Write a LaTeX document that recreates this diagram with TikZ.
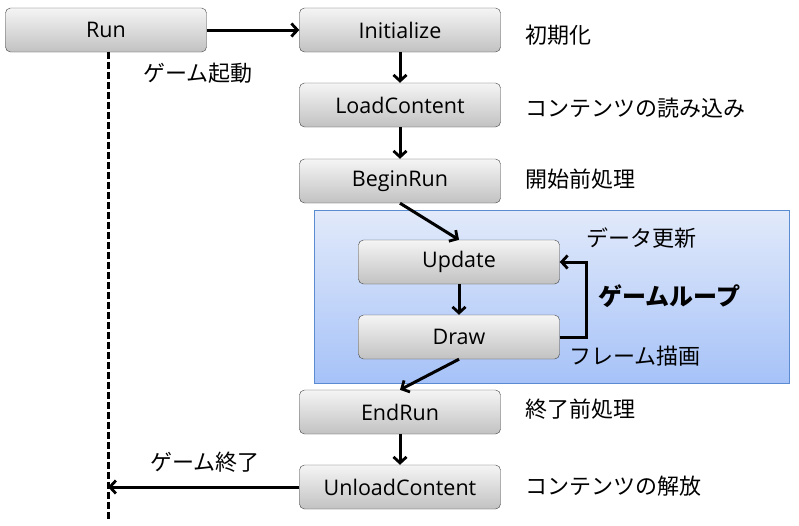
\documentclass[tikz,border=0pt]{standalone}
\usepackage{fontspec}
\usepackage{tikz}
\usetikzlibrary{arrows.meta}
\setmainfont{Open Sans}
\newfontfamily\jp{Noto Sans CJK JP}
\definecolor{looptop}{RGB}{226,234,250}
\definecolor{loopbot}{RGB}{166,194,248}
\definecolor{loopedge}{RGB}{91,139,208}
\tikzset{
  stage/.style={draw=black!75,rounded corners=5pt,minimum width=201pt,minimum height=44pt,
    top color=black!4,bottom color=black!24,font=\fontsize{21.5}{24}\selectfont,inner sep=0pt},
  note/.style={anchor=west,font=\jp\fontsize{22}{26}\selectfont,inner sep=0pt},
  flow/.style={line width=3pt,-{Straight Barb[length=6pt,width=13pt,line width=2.8pt]}}
}
\begin{document}
\begin{tikzpicture}[x=1pt,y=-1pt]
    \useasboundingbox (0,0) rectangle (799,525);
    \shade[top color=looptop,bottom color=loopbot,draw=loopedge] (314,210) rectangle (789,383);
    \node[stage] (run) at (106,30) {Run};
    \node[stage] (init) at (400,30) {Initialize};
    \node[stage] (load) at (400,105) {LoadContent};
    \node[stage] (begin) at (400,181) {BeginRun};
    \node[stage] (update) at (459,262) {Update};
    \node[stage] (drawit) at (459,337) {Draw};
    \node[stage] (endrun) at (400,412) {EndRun};
    \node[stage] (unload) at (400,487) {UnloadContent};
    \coordinate (life) at (108,520);
    \coordinate (quit) at (108,487);
    \draw[line width=3pt,dash pattern=on 7pt off 3pt] (108,52) -- (life);
    \draw[flow] (run) -- (init);
    \draw[flow] (init) -- (load);
    \draw[flow] (load) -- (begin);
    \draw[flow] (begin.south) -- (update.north);
    \draw[flow] (update) -- (drawit);
    \draw[flow] (drawit.east) -| (586,262) -- (update.east);
    \draw[flow] (drawit.south) -- (endrun.north);
    \draw[flow] (endrun) -- (unload);
    \draw[flow] (unload) -- (quit);
    \node[note] (l1) at (525,35) {初期化};
    \node[note] (l2) at (525,108) {コンテンツの読み込み};
    \node[note] (l3) at (525,179) {開始前処理};
    \node[note] (l4) at (586,238) {データ更新};
    \node[note,font=\jp\bfseries\fontsize{24}{28}\selectfont] (l5) at (598,296) {ゲームループ};
    \node[note] (l6) at (569,356) {フレーム描画};
    \node[note] (l7) at (525,409) {終了前処理};
    \node[note] (l8) at (525,486) {コンテンツの解放};
    \node[note] (l9) at (143,73) {ゲーム起動};
    \node[note] (l10) at (150,462) {ゲーム終了};
\end{tikzpicture}
\end{document}
